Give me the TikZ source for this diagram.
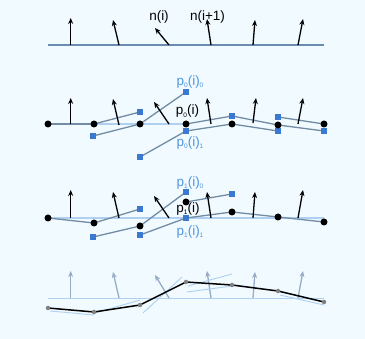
\documentclass[tikz,border=0pt]{standalone}
\usepackage{fontspec}
\setmainfont{Liberation Sans}
\usetikzlibrary{arrows.meta}
\definecolor{bg}{RGB}{240,250,255}
\definecolor{sqblue}{RGB}{58,120,210}
\definecolor{txtblue}{RGB}{80,150,225}
\definecolor{lgray}{RGB}{115,140,165}
\definecolor{lblue}{RGB}{175,208,240}
\definecolor{fade}{RGB}{150,172,198}
\definecolor{baseblue}{RGB}{105,140,175}
\tikzset{
  normal/.style={-{Stealth[length=6pt,width=5pt]}, line width=1.3pt, black},
  fnormal/.style={normal, draw=fade},
  dotn/.style={circle, fill=black, inner sep=0pt, minimum size=7pt},
  gdot/.style={circle, fill=gray, inner sep=0pt, minimum size=4.5pt},
  sq/.style={rectangle, fill=sqblue, inner sep=0pt, minimum size=5.5pt},
  seg/.style={lgray, line width=1.3pt},
  lightline/.style={lblue, line width=1.1pt},
  lbl/.style={font=\fontsize{13.5}{15}\selectfont, inner sep=0pt},
  blbl/.style={lbl, text=txtblue}
}
\newcommand{\sbx}[1]{\raisebox{-0.35ex}{\fontsize{6.5}{7}\selectfont #1}}
\begin{document}
\begin{tikzpicture}[x=1pt,y=-1pt]
\fill[bg] (0,0) rectangle (365,339);
\useasboundingbox (0,0) rectangle (365,339);

% ---------- panel 1 ----------
\draw[baseblue, line width=1.2pt] (48,45) -- (324,45);
\draw[normal] (70.7,45) -- (70.7,18);
\draw[normal] (119,45) -- (113,20);
\draw[normal] (169,45) -- (155,28);
\draw[normal] (211,45) -- (207,19);
\draw[normal] (253,45) -- (255,20);
\draw[normal] (298,45) -- (303,19);
\node[lbl] (ni) at (159,17) {n(i)};
\node[lbl] (ni1) at (207.5,17) {n(i+1)};

% ---------- panel 2 ----------
\coordinate (a1) at (48,124);
\coordinate (a2) at (94,124);
\coordinate (a3) at (140,124);
\coordinate (a4) at (186,124);
\coordinate (a5) at (232,124);
\coordinate (a6) at (278,125);
\coordinate (a7) at (324,124);
\coordinate (s2u) at (140,112);
\coordinate (s1l) at (93,136);
\coordinate (s3u) at (186,92);
\coordinate (s2l) at (140,157);
\coordinate (s3l) at (186,131);
\coordinate (s4u) at (232,116);
\coordinate (s5u) at (278,117);
\coordinate (s5l) at (278,131);
\coordinate (s6l) at (324,131);
\draw[lightline] (a2) -- (a4);
\draw[seg] (a1) -- (a2);
\draw[seg] (a2) -- (s2u);
\draw[seg] (s1l) -- (a3);
\draw[seg] (a3) -- (s3u);
\draw[seg] (s2l) -- (s3l);
\draw[seg] (a4) -- (s4u);
\draw[seg] (s3l) -- (a5);
\draw[seg] (s4u) -- (a6);
\draw[seg] (a5) -- (s5l);
\draw[seg] (s5u) -- (a7);
\draw[seg] (a6) -- (s6l);
\draw[normal] (70.7,124) -- (70.7,98);
\draw[normal] (119,125) -- (113,99);
\draw[normal] (169,124) -- (154,102);
\draw[normal] (211,124) -- (207,98);
\draw[normal] (253,123) -- (256,98);
\draw[normal] (298,124) -- (303,98);
\foreach \p in {s2u,s1l,s3u,s2l,s3l,s4u,s5u,s5l,s6l} \node[sq] at (\p) {};
\foreach \p in {a1,a2,a3,a4,a5,a6,a7} \node[dotn] at (\p) {};
\node[blbl] (l20) at (190,82) {p\sbx{0}(i)\sbx{0}};
\node[lbl] (l2) at (187.5,111.5) {p\sbx{0}(i)};
\node[blbl] (l21) at (190,143) {p\sbx{0}(i)\sbx{1}};

% ---------- panel 3 ----------
\coordinate (b1) at (48,218);
\coordinate (b2) at (94,223);
\coordinate (b3) at (140,226);
\coordinate (b4) at (186,202);
\coordinate (b5) at (232,212);
\coordinate (b6) at (278,217);
\coordinate (b7) at (324,222);
\coordinate (b8) at (324,218);
\coordinate (t2u) at (140,209);
\coordinate (t1l) at (93,237);
\coordinate (t3u) at (186,192);
\coordinate (t2l) at (140,235);
\coordinate (t4u) at (232,194);
\coordinate (t3l) at (186,218);
\draw[lightline] (b1) -- (b8);
\draw[seg] (b1) -- (b2);
\draw[seg] (b2) -- (t2u);
\draw[seg] (t1l) -- (b3);
\draw[seg] (b3) -- (t3u);
\draw[seg] (t2l) -- (t3l);
\draw[seg] (b4) -- (t4u);
\draw[seg] (t3l) -- (b5) -- (b6) -- (b7);
\draw[normal] (70.7,218) -- (70.7,190);
\draw[normal] (119,218) -- (113,192);
\draw[normal] (169,218) -- (154,196);
\draw[normal] (211,218) -- (207,192);
\draw[normal] (253,218) -- (255,192);
\draw[normal] (298,218) -- (303,190);
\foreach \p in {t2u,t1l,t3u,t2l,t4u,t3l} \node[sq] at (\p) {};
\foreach \p in {b1,b2,b3,b4,b5,b6,b7} \node[dotn] at (\p) {};
\node[blbl] (l30) at (190,183) {p\sbx{1}(i)\sbx{0}};
\node[lbl] (l3) at (188,209) {p\sbx{1}(i)};
\node[blbl] (l31) at (190,232) {p\sbx{1}(i)\sbx{1}};

% ---------- panel 4 ----------
\draw[lightline, line width=0.9pt] (48,298) -- (324,298);
\draw[fnormal] (70.7,298) -- (70.7,271);
\draw[fnormal] (119,298) -- (113,272);
\draw[fnormal] (169,298) -- (155,275);
\draw[fnormal] (211,298) -- (207,271);
\draw[fnormal] (253,298) -- (255,272);
\draw[fnormal] (298,298) -- (303,271);
\draw[lightline, line width=0.9pt] (50,311) -- (94,315);
\draw[lightline, line width=0.9pt] (95,313) -- (140,300);
\draw[lightline, line width=0.9pt] (143,313) -- (182,277);
\draw[lightline, line width=0.9pt] (187,292) -- (232,286);
\draw[lightline, line width=0.9pt] (188,286) -- (232,274);
\draw[lightline, line width=0.9pt] (280,295) -- (324,305);
\coordinate (c1) at (48,308);
\coordinate (c2) at (94,312);
\coordinate (c3) at (140,305);
\coordinate (c4) at (186,282);
\coordinate (c5) at (232,285);
\coordinate (c6) at (278,291);
\coordinate (c7) at (324,302);
\draw[black, line width=1.5pt] (c1) -- (c2) -- (c3) -- (c4) -- (c5) -- (c6) -- (c7);
\foreach \p in {c1,c2,c3,c4,c5,c6,c7} \node[gdot] at (\p) {};
\end{tikzpicture}
\end{document}
